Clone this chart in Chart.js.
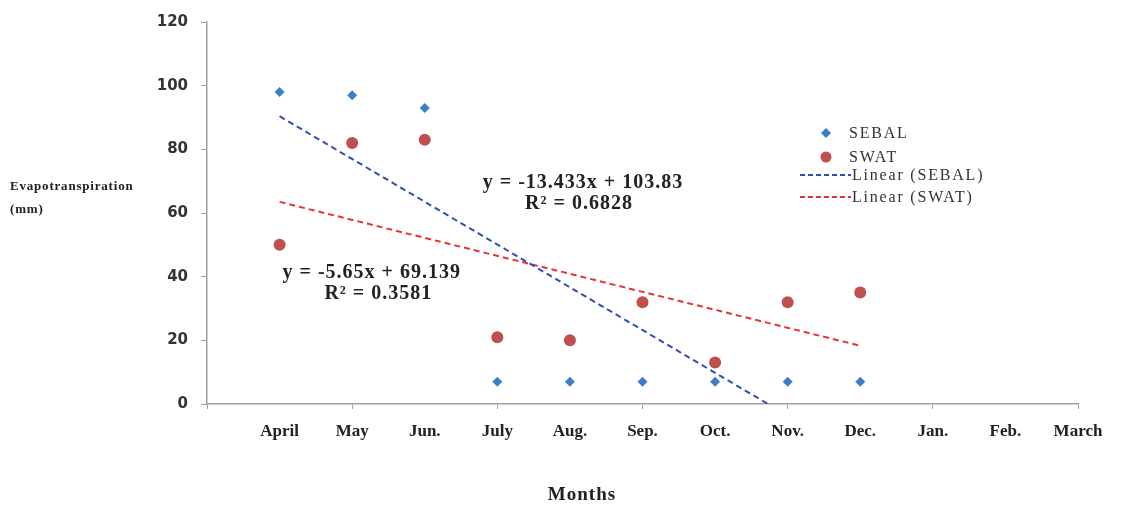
<!DOCTYPE html>
<html>
<head>
<meta charset="utf-8">
<script src="https://cdn.jsdelivr.net/npm/chart.js@4/dist/chart.umd.min.js"></script>
<style>
  html, body { margin: 0; padding: 0; background: #fff; }
  #wrap { width: 1142px; height: 506px; }
</style>
</head>
<body>
<div id="wrap"><canvas id="c" width="1142" height="506"></canvas></div>
<script>
// Monthly evapotranspiration (mm), month index 1 = April
const months = ['April', 'May', 'Jun.', 'July', 'Aug.', 'Sep.', 'Oct.', 'Nov.', 'Dec.', 'Jan.', 'Feb.', 'March'];
const monthIndex = [1, 2, 3, 4, 5, 6, 7, 8, 9];
const sebal = [98, 97, 93, 7, 7, 7, 7, 7, 7];
const swat = [50, 82, 83, 21, 20, 32, 13, 32, 35];
const yTicks = [0, 20, 40, 60, 80, 100, 120];

// Linear fit coefficients [slope, intercept] and R²
const sebalFit = [-13.433, 103.83];
const swatFit = [-5.65, 69.139];
const sebalR2 = '0.6828';
const swatR2 = '0.3581';

const pts = (ys) => monthIndex.map((x, i) => ({ x, y: ys[i] }));
const fitLine = (f) => [1, 9].map(x => ({ x, y: f[0] * x + f[1] }));
const fmtEq = (f) => 'y = ' + f[0] + 'x + ' + f[1];

const SEBAL_C = '#3d7fc6';
const SWAT_C = '#c0504d';
const SEBAL_LINE = '#2f4fb5';
const SWAT_LINE = '#e53535';
const SERIF = '"Liberation Serif", "DejaVu Serif", serif';

function spaced(c, px) { if ('letterSpacing' in c) c.letterSpacing = px + 'px'; }

const overlay = {
  id: 'overlay',
  afterDraw(chart) {
    const c = chart.ctx;
    const xs = chart.scales.x, ys = chart.scales.y;
    c.save();
    c.fillStyle = '#222';
    // axis titles
    c.font = 'bold 13px ' + SERIF;
    spaced(c, 0.8);
    c.textAlign = 'left';
    c.textBaseline = 'middle';
    c.fillText('Evapotranspiration', 10, 187);
    c.fillText('(mm)', 10, 210);
    c.font = 'bold 19px ' + SERIF;
    spaced(c, 1);
    c.textAlign = 'center';
    c.fillText('Months', 582, 495);

    // fit equations
    c.font = 'bold 20px ' + SERIF;
    spaced(c, 1);
    c.fillText(fmtEq(sebalFit), xs.getPixelForValue(5.18), ys.getPixelForValue(69.4));
    c.fillText('R² = ' + sebalR2, xs.getPixelForValue(5.125), ys.getPixelForValue(62.8));
    c.fillText(fmtEq(swatFit), xs.getPixelForValue(2.27), ys.getPixelForValue(41.25));
    c.fillText('R² = ' + swatR2, xs.getPixelForValue(2.36), ys.getPixelForValue(34.7));

    // legend
    const ds = chart.data.datasets;
    const lx = 826, tx = 849;
    const rows = [133, 157, 175, 197];
    c.textAlign = 'left';
    // SEBAL marker
    c.fillStyle = ds[0].backgroundColor;
    c.beginPath();
    c.moveTo(lx, rows[0] - 5); c.lineTo(lx + 5, rows[0]); c.lineTo(lx, rows[0] + 5); c.lineTo(lx - 5, rows[0]);
    c.closePath(); c.fill();
    // SWAT marker
    c.fillStyle = ds[1].backgroundColor;
    c.beginPath(); c.arc(lx, rows[1], 5.5, 0, Math.PI * 2); c.fill();
    // trend line swatches
    [2, 3].forEach((k, j) => {
      c.strokeStyle = ds[k].borderColor;
      c.lineWidth = 2;
      c.setLineDash([5, 3]);
      c.beginPath(); c.moveTo(800, rows[2 + j]); c.lineTo(851, rows[2 + j]); c.stroke();
    });
    c.setLineDash([]);
    c.fillStyle = '#333';
    c.font = '16px ' + SERIF;
    spaced(c, 1.8);
    const names = ['SEBAL', 'SWAT', 'Linear (SEBAL)', 'Linear (SWAT)'];
    names.forEach((n, i) => c.fillText(n, i < 2 ? tx : 852, rows[i] + 1));
    c.restore();
  }
};

new Chart(document.getElementById('c'), {
  type: 'scatter',
  data: {
    datasets: [
      { label: 'SEBAL', data: pts(sebal), pointStyle: 'rectRot', pointRadius: 5, pointHoverRadius: 5,
        backgroundColor: SEBAL_C, borderColor: SEBAL_C, borderWidth: 0 },
      { label: 'SWAT', data: pts(swat), pointStyle: 'circle', pointRadius: 6, pointHoverRadius: 6,
        backgroundColor: SWAT_C, borderColor: SWAT_C, borderWidth: 0 },
      { label: 'Linear (SEBAL)', type: 'line', data: fitLine(sebalFit), borderColor: SEBAL_LINE,
        borderWidth: 2, borderDash: [6, 4], pointRadius: 0, fill: false },
      { label: 'Linear (SWAT)', type: 'line', data: fitLine(swatFit), borderColor: SWAT_LINE,
        borderWidth: 2, borderDash: [6, 4], pointRadius: 0, fill: false }
    ]
  },
  options: {
    responsive: false,
    animation: false,
    layout: { padding: { top: 20, right: 64, left: 0, bottom: 0 } },
    plugins: { legend: { display: false }, tooltip: { enabled: false } },
    scales: {
      x: {
        type: 'linear', min: 0, max: 12,
        afterFit: (s) => { s.height = 102; },
        afterBuildTicks: (s) => { s.ticks = Array.from({ length: 13 }, (_, i) => ({ value: i })); },
        border: { color: '#a0a0a0', width: 1.5 },
        grid: {
          drawOnChartArea: false, tickLength: 5,
          color: (ctx) => (ctx.tick && ctx.tick.value % 2 === 0) ? '#a0a0a0' : 'rgba(0,0,0,0)'
        },
        ticks: {
          autoSkip: false, maxRotation: 0, padding: 12,
          color: '#222', font: { family: SERIF, size: 17, weight: 'bold' },
          callback: (v) => (v >= 1 && v <= 12) ? months[v - 1] : ''
        }
      },
      y: {
        min: 0, max: 120,
        afterFit: (s) => { s.width = 207; },
        afterBuildTicks: (s) => { s.ticks = yTicks.map(v => ({ value: v })); },
        border: { color: '#a0a0a0', width: 1.5 },
        grid: { drawOnChartArea: false, tickLength: 6, color: '#a0a0a0' },
        ticks: {
          padding: 13, color: '#333',
          font: { family: '"DejaVu Sans", Verdana, sans-serif', size: 15, weight: 'bold' }
        }
      }
    }
  },
  plugins: [overlay]
});
</script>
</body>
</html>
